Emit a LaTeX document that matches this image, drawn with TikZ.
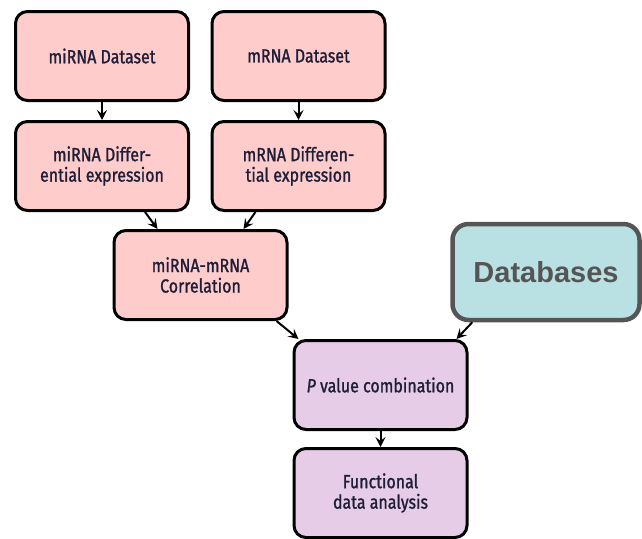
\documentclass[tikz,border=0pt]{standalone}
\usepackage{fontspec}
\usetikzlibrary{arrows.meta}
\newfontfamily\boxfont[FakeStretch=0.84,FakeBold=1.2]{Fira Sans}
\newfontfamily\dbfont{Liberation Sans}
\definecolor{pinkfill}{HTML}{FFCCCC}
\definecolor{purplefill}{HTML}{E6CCE6}
\definecolor{tealfill}{HTML}{B9E0E3}
\definecolor{navytext}{HTML}{1E1E38}
\definecolor{dbgray}{HTML}{555555}
\begin{document}
\begin{tikzpicture}[x=1pt,y=-1pt,
  base/.style={draw=black, line width=3pt, rounded corners=12pt, align=center,
    text=navytext, font=\boxfont\fontsize{19}{20.5}\selectfont,
    minimum width=173pt, minimum height=89pt, inner sep=0pt},
  pinkbox/.style={base, fill=pinkfill},
  purplebox/.style={base, fill=purplefill},
  dbbox/.style={draw=dbgray, line width=4.5pt, rounded corners=16pt, fill=tealfill,
    text=dbgray, font=\dbfont\bfseries\fontsize{29}{31}\selectfont,
    minimum width=187pt, minimum height=96pt, inner sep=0pt},
  arr/.style={line width=2pt, -{Stealth[length=10pt,width=10pt,inset=4pt]}}]
\useasboundingbox (0,0) rectangle (642,538);
\node[pinkbox] (mids) at (102,56) {miRNA Dataset};
\node[pinkbox] (mds) at (298.5,56) {mRNA Dataset};
\node[pinkbox] (midiff) at (102,166) {miRNA Differ-\\ential expression};
\node[pinkbox] (mdiff) at (298.5,166) {mRNA Differen-\\tial expression};
\node[pinkbox] (corr) at (200.5,275) {miRNA-mRNA\\Correlation};
\node[dbbox] (db) at (546,272) {Databases};
\node[purplebox] (pv) at (380.5,385) {\textit{P} value combination};
\node[purplebox] (fa) at (380.5,493) {Functional\\data analysis};
\draw[arr] (mids.south) -- (midiff.north);
\draw[arr] (mds.south) -- (mdiff.north);
\draw[arr] ([xshift=43pt]midiff.south) -- ([xshift=-43pt]corr.north);
\draw[arr] ([xshift=-43pt]mdiff.south) -- ([xshift=43pt]corr.north);
\draw[arr] ([xshift=-12pt]corr.south east) -- ([xshift=6pt]pv.north west);
\draw[arr] ([xshift=22pt]db.south west) -- ([xshift=-12pt]pv.north east);
\draw[arr] (pv.south) -- (fa.north);
\end{tikzpicture}
\end{document}
